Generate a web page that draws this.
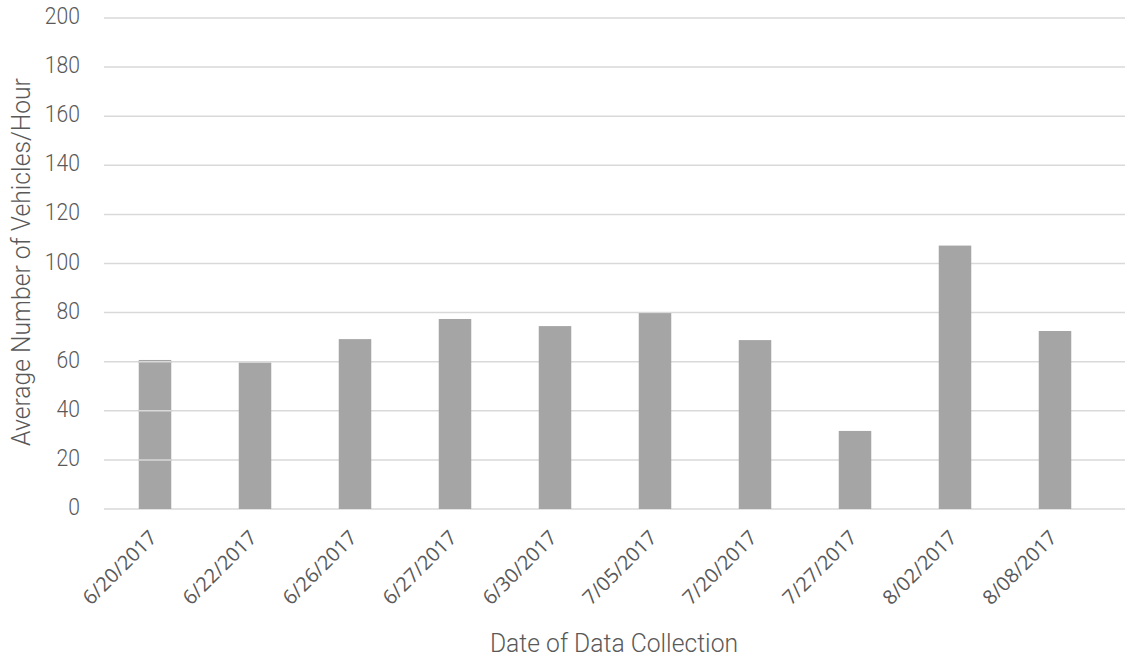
<!DOCTYPE html>
<html>
<head>
<meta charset="utf-8">
<script src="https://cdn.jsdelivr.net/npm/d3@7"></script>
<style>
  body { margin: 0; background: #fff; }
  text { fill: #595959; }
</style>
</head>
<body>
<div id="chart"></div>
<script>
// data
var dates = ['6/20/2017', '6/22/2017', '6/26/2017', '6/27/2017', '6/30/2017',
  '7/05/2017', '7/20/2017', '7/27/2017', '8/02/2017', '8/08/2017'];
var vehicles = [60.7, 59.6, 69.2, 77.4, 74.5, 79.8, 68.8, 31.8, 107.3, 72.5];
var y_ticks = [0, 20, 40, 60, 80, 100, 120, 140, 160, 180, 200];

var chart_width = 1125;
var chart_height = 659;
var plot_left = 105;
var plot_right = 1105;
var plot_top = 18;
var plot_bottom = 509;

var svg = d3
  .select('#chart')
  .append('svg')
  .attr('width', chart_width)
  .attr('height', chart_height);

var x_scale = d3
  .scaleBand()
  .domain(dates)
  .range([plot_left, plot_right])
  .paddingInner(0.675)
  .paddingOuter(0.3375);

var y_scale = d3
  .scaleLinear()
  .domain([0, 200])
  .range([plot_bottom, plot_top]);

// gridlines
svg
  .selectAll('line.grid')
  .data(y_ticks)
  .enter()
  .append('line')
  .attr('class', 'grid')
  .attr('x1', 104)
  .attr('x2', 1125)
  .attr('y1', function(d) { return y_scale(d); })
  .attr('y2', function(d) { return y_scale(d); })
  .attr('stroke', '#d9d9d9')
  .attr('stroke-width', 1.5);

// bars
svg
  .selectAll('rect')
  .data(vehicles)
  .enter()
  .append('rect')
  .attr('x', function(d, i) { return x_scale(dates[i]); })
  .attr('y', function(d) { return y_scale(d); })
  .attr('width', x_scale.bandwidth())
  .attr('height', function(d) { return plot_bottom - y_scale(d); })
  .attr('fill', '#a5a5a5');

// the first bar shows the gridlines through it in the original
svg
  .selectAll('line.over')
  .data(y_ticks.filter(function(d) { return d > 0 && d < vehicles[0]; }))
  .enter()
  .append('line')
  .attr('class', 'over')
  .attr('x1', x_scale(dates[0]))
  .attr('x2', x_scale(dates[0]) + x_scale.bandwidth())
  .attr('y1', function(d) { return y_scale(d); })
  .attr('y2', function(d) { return y_scale(d); })
  .attr('stroke', '#d9d9d9')
  .attr('stroke-width', 1.5);

// y tick labels
svg
  .selectAll('text.ytick')
  .data(y_ticks)
  .enter()
  .append('text')
  .attr('class', 'ytick')
  .attr('transform', function(d) {
    return 'translate(80,' + (y_scale(d) + 6) + ') scale(0.88,1)';
  })
  .attr('text-anchor', 'end')
  .attr('font-family', 'Roboto, sans-serif')
  .attr('font-weight', 300)
  .attr('font-size', 24)
  .text(function(d) { return d; });

// x tick labels, rotated
svg
  .selectAll('text.xtick')
  .data(dates)
  .enter()
  .append('text')
  .attr('class', 'xtick')
  .attr('transform', function(d) {
    var cx = x_scale(d) + x_scale.bandwidth() / 2 + 3;
    return 'translate(' + cx + ',' + 539 + ') rotate(-45)';
  })
  .attr('text-anchor', 'end')
  .attr('font-family', 'Open Sans, sans-serif')
  .attr('font-size', 20)
  .text(function(d) { return d; });

// axis titles
svg
  .append('text')
  .attr('transform', 'translate(614,652) scale(0.95,1)')
  .attr('text-anchor', 'middle')
  .attr('font-family', 'Roboto, sans-serif')
  .attr('font-weight', 300)
  .attr('font-size', 26)
  .text('Date of Data Collection');

svg
  .append('text')
  .attr('transform', 'translate(30,262) rotate(-90) scale(0.95,1)')
  .attr('text-anchor', 'middle')
  .attr('font-family', 'Roboto, sans-serif')
  .attr('font-weight', 300)
  .attr('font-size', 26)
  .text('Average Number of Vehicles/Hour');
</script>
</body>
</html>
